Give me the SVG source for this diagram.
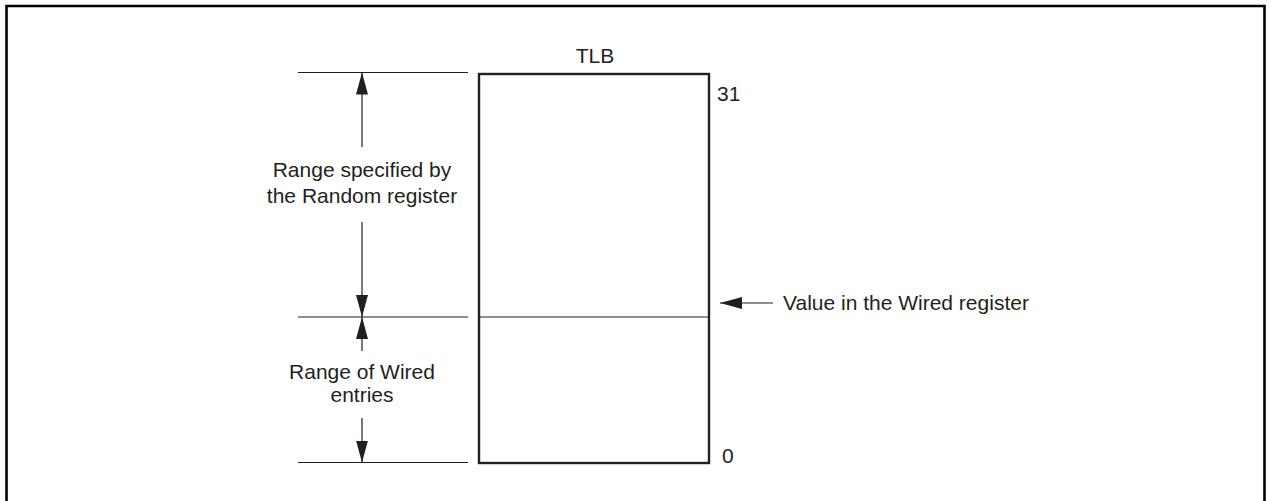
<svg xmlns="http://www.w3.org/2000/svg" width="1271" height="501" viewBox="0 0 1271 501">
<style>
  text { font-family: "Liberation Sans", Arial, sans-serif; font-size: 21px; fill: #231f20; }
  .mid { text-anchor: middle; }
  .dim { stroke: #231f20; stroke-width: 1.2; fill: none; }
  .arr { stroke: #231f20; stroke-width: 1.2; fill: none; marker-end: url(#ah); }
</style>
<defs>
  <marker id="ah" markerUnits="userSpaceOnUse" viewBox="0 0 22 12" refX="22" refY="6" markerWidth="22" markerHeight="12" orient="auto">
    <path d="M0,0 L22,6 L0,12 Z" fill="#231f20"/>
  </marker>
</defs>
<rect width="1271" height="501" fill="#ffffff"/>
<path d="M6.5,505 V6 H1264.5 V505" fill="none" stroke="#000000" stroke-width="2.6"/>

<g id="tlb">
  <rect x="479" y="74" width="230" height="389" fill="none" stroke="#231f20" stroke-width="2.4"/>
  <line x1="479" y1="317" x2="709" y2="317" stroke="#231f20" stroke-width="1.2"/>
  <text class="mid" x="595" y="63">TLB</text>
  <text x="717" y="101">31</text>
  <text x="722" y="463">0</text>
</g>

<g id="random-range">
  <text class="mid" x="362" y="177">Range specified by</text>
  <text class="mid" x="362" y="203">the Random register</text>
</g>

<g id="wired-range">
  <text class="mid" x="362" y="379">Range of Wired</text>
  <text class="mid" x="362" y="402">entries</text>
</g>

<g id="wired-value">
  <text x="783" y="310">Value in the Wired register</text>
</g>

<g id="connectors">
  <line class="dim" x1="298" y1="72.5" x2="468" y2="72.5"/>
  <line class="dim" x1="298" y1="317" x2="468" y2="317"/>
  <line class="dim" x1="298" y1="462.5" x2="468" y2="462.5"/>
  <line class="arr" x1="362" y1="147" x2="362" y2="72.5"/>
  <line class="arr" x1="362" y1="222" x2="362" y2="317"/>
  <line class="arr" x1="362" y1="351" x2="362" y2="317"/>
  <line class="arr" x1="362" y1="418" x2="362" y2="462.5"/>
  <line class="arr" x1="773" y1="303" x2="720" y2="303"/>
</g>
</svg>
